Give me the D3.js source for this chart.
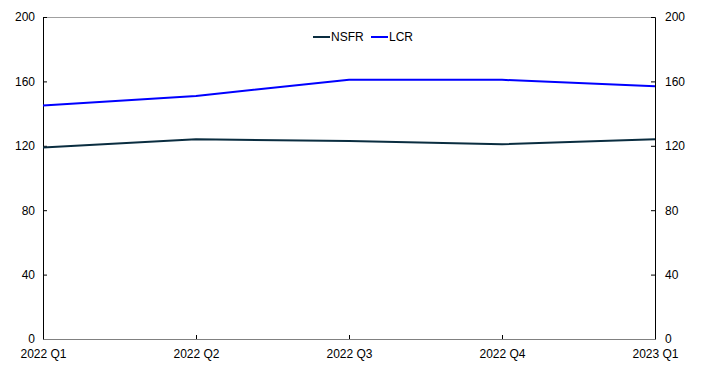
<!DOCTYPE html>
<html>
<head>
<meta charset="utf-8">
<script src="https://cdn.jsdelivr.net/npm/d3@7"></script>
<style>
  body { margin: 0; background: #fff; }
  text { font-family: "Liberation Sans", Arial, sans-serif; font-size: 12px; fill: #000; }
</style>
</head>
<body>
<svg id="chart" width="722" height="381"></svg>
<script>
const quarters = ['2022 Q1', '2022 Q2', '2022 Q3', '2022 Q4', '2023 Q1']
const nsfr = [119, 124, 123, 121, 124]
const lcr = [145, 151, 161, 161, 157]
const yTicks = [0, 40, 80, 120, 160, 200]

const svg = d3.select('#chart')
const m = { left: 43, right: 67, top: 17, bottom: 42 }
const w = 722 - m.left - m.right
const h = 381 - m.top - m.bottom

const x = d3.scalePoint().domain(quarters).range([0, w])
const y = d3.scaleLinear().domain([0, 200]).range([h, 0])

const g = svg.append('g').attr('transform', `translate(${m.left},${m.top})`)

// frame
g.append('line').attr('x1', 0).attr('x2', w).attr('y1', 0.5).attr('y2', 0.5)
  .attr('stroke', '#a0a0a0')

const left = g.append('g').call(d3.axisLeft(y).tickValues(yTicks).tickSize(-4).tickPadding(8))
const right = g.append('g').attr('transform', `translate(${w},0)`)
  .call(d3.axisRight(y).tickValues(yTicks).tickSize(-4).tickPadding(10))
const bottom = g.append('g').attr('transform', `translate(0,${h})`)
  .call(d3.axisBottom(x).tickSize(-4).tickPadding(8))

;[left, right, bottom].forEach(a => {
  a.selectAll('text').style('font-size', '12px').attr('fill', '#000')
    .style('font-family', '"Liberation Sans", Arial, sans-serif')
  a.selectAll('line').attr('stroke', '#000')
  a.select('.domain').attr('stroke', '#000')
})
bottom.select('.domain').attr('stroke', '#808080')
bottom.selectAll('text').attr('dy', '0.9em')
left.selectAll('text').attr('dx', '0px')

const line = d3.line()
  .x((d, i) => x(quarters[i]))
  .y(d => y(d))

g.append('path').datum(nsfr).attr('d', line)
  .attr('fill', 'none').attr('stroke', '#0a2d40').attr('stroke-width', 2)
g.append('path').datum(lcr).attr('d', line)
  .attr('fill', 'none').attr('stroke', '#0000ff').attr('stroke-width', 2)

// legend
const legend = [
  { name: 'NSFR', color: '#0a2d40', x: 313 },
  { name: 'LCR', color: '#0000ff', x: 371 }
]
const lg = svg.append('g')
legend.forEach(d => {
  lg.append('line').attr('x1', d.x).attr('x2', d.x + 17).attr('y1', 37).attr('y2', 37)
    .attr('stroke', d.color).attr('stroke-width', 2)
  lg.append('text').attr('x', d.x + 18).attr('y', 41).text(d.name)
})
</script>
</body>
</html>
